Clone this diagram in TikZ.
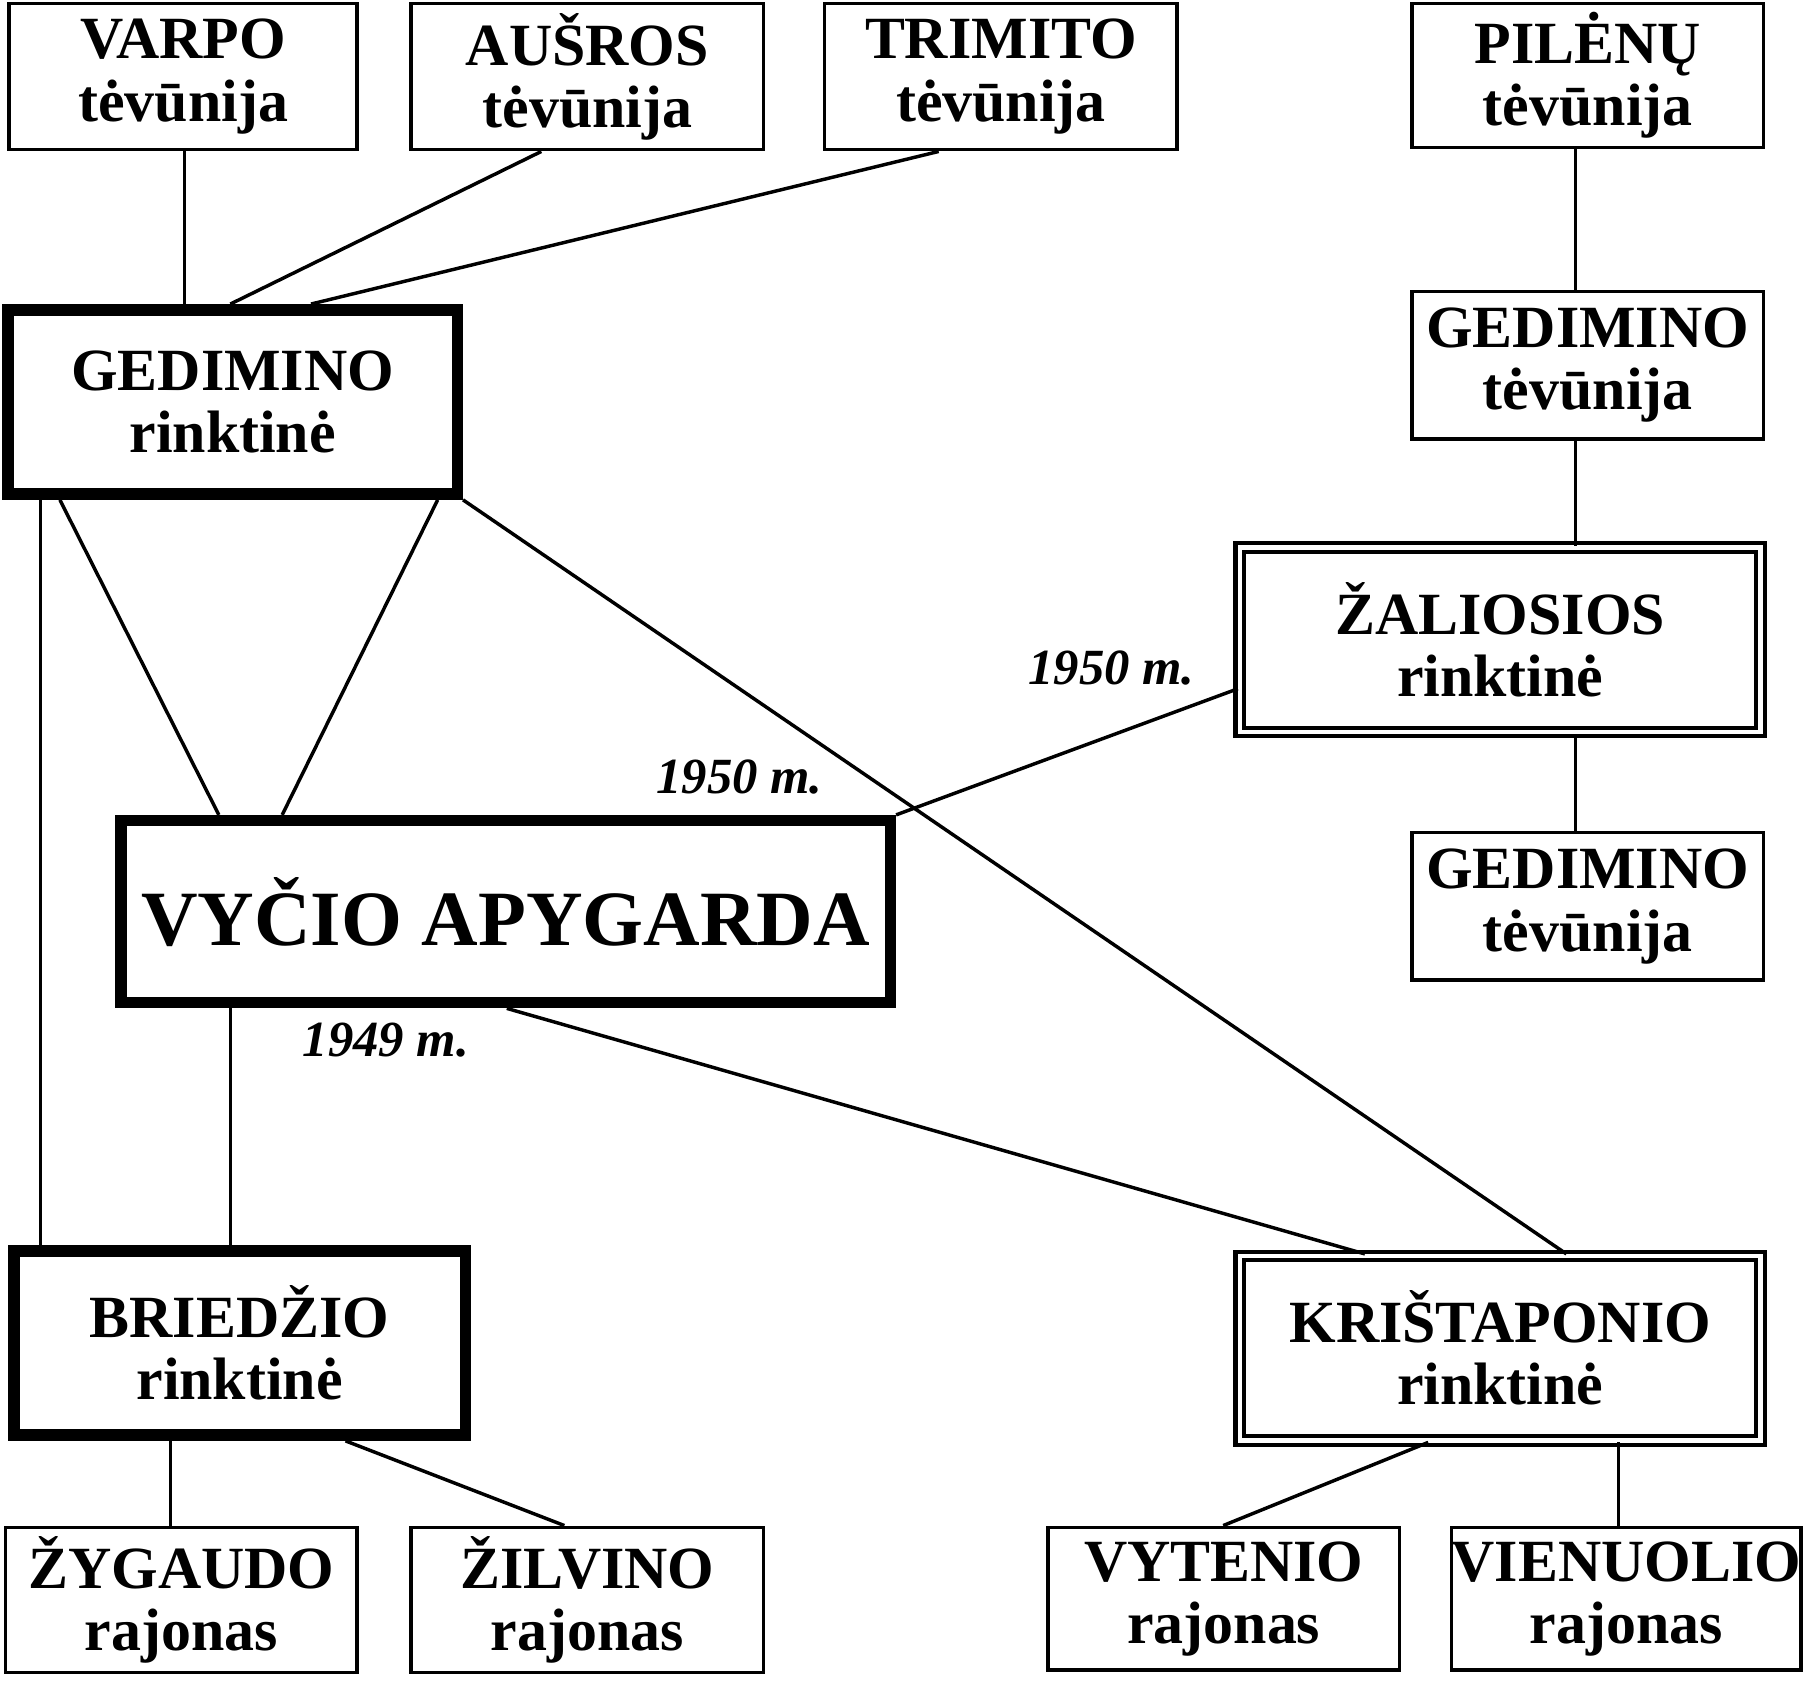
\documentclass[tikz,border=0pt]{standalone}
\usepackage{fontspec}
\setmainfont{Liberation Serif}
\begin{document}
\begin{tikzpicture}[x=0.5pt,y=-0.5pt,
 bx/.style={draw,line width=1.5pt,align=center,font=\bfseries\fontsize{26}{27}\selectfont,inner sep=0pt},
 tk/.style={bx,line width=5pt},
 db/.style={bx,double,line width=1.8pt,double distance=2pt},
 ln/.style={line width=1.5pt},
 yr/.style={font=\bfseries\itshape\fontsize{22}{24}\selectfont}]
\useasboundingbox (0,0) rectangle (1568,1459);
\node[bx,minimum width=151pt,minimum height=63.5pt] (varpo) at (159,66.5) {VARPO\\tėvūnija};
\node[bx,minimum width=153pt,minimum height=63.5pt] (ausros) at (510,66.5) {AUŠROS\\tėvūnija};
\node[bx,minimum width=153pt,minimum height=63.5pt] (trim) at (869,66.5) {TRIMITO\\tėvūnija};
\node[bx,minimum width=152.5pt,minimum height=62.5pt] (pil) at (1378.5,65.5) {PILĖNŲ\\tėvūnija};
\node[bx,minimum width=152.5pt,minimum height=64pt] (ged1) at (1378.5,317) {GEDIMINO\\tėvūnija};
\node[db,minimum width=226pt,minimum height=80pt] (zal) at (1302.5,555.5) {ŽALIOSIOS\\rinktinė};
\node[bx,minimum width=152.5pt,minimum height=64pt] (ged2) at (1378.5,787) {GEDIMINO\\tėvūnija};
\node[tk,minimum width=195pt,minimum height=80pt] (gedr) at (202,349) {GEDIMINO\\rinktinė};
\node[tk,minimum width=334pt,minimum height=79pt,font=\bfseries\fontsize{34}{36}\selectfont] (vyc) at (439,791.5) {VYČIO APYGARDA};
\node[tk,minimum width=196pt,minimum height=80pt] (brie) at (208,1166) {BRIEDŽIO\\rinktinė};
\node[db,minimum width=226pt,minimum height=80pt] (kri) at (1302.5,1170.5) {KRIŠTAPONIO\\rinktinė};
\node[bx,minimum width=152.5pt,minimum height=63pt] (zyg) at (157.5,1389) {ŽYGAUDO\\rajonas};
\node[bx,minimum width=153pt,minimum height=63pt] (zil) at (510,1389) {ŽILVINO\\rajonas};
\node[bx,minimum width=152.5pt,minimum height=62pt] (vyt) at (1062.5,1388) {VYTENIO\\rajonas};
\node[bx,minimum width=150pt,minimum height=62pt] (vie) at (1412,1388) {VIENUOLIO\\rajonas};
\begin{scope}[ln]
\draw (varpo.south -| 160,0) -- (gedr.north -| 160,0);
\draw (ausros.south -| 470,0) -- (gedr.north -| 200,0);
\draw (trim.south -| 815,0) -- (gedr.north -| 270,0);
\draw (pil.south -| 1368,0) -- (ged1.north -| 1368,0);
\draw (ged1.south -| 1368,0) -- (zal.north -| 1368,0);
\draw (zal.south -| 1368,0) -- (ged2.north -| 1368,0);
\draw (gedr.south -| 35,0) -- (brie.north -| 35,0);
\draw (gedr.south -| 52,0) -- (vyc.north -| 190,0);
\draw (gedr.south -| 380,0) -- (vyc.north -| 245,0);
\draw (gedr.south east) -- (kri.north -| 1360,0);
\draw (vyc.north east) -- (zal.west |- 0,598);
\draw (vyc.south -| 200,0) -- (brie.north -| 200,0);
\draw (vyc.south -| 440,0) -- (kri.north -| 1185,0);
\draw (brie.south -| 148,0) -- (zyg.north -| 148,0);
\draw (brie.south -| 300,0) -- (zil.north -| 490,0);
\draw (kri.south -| 1240,0) -- (vyt.north -| 1062,0);
\draw (kri.south -| 1405,0) -- (vie.north -| 1405,0);
\end{scope}
\node[yr] (l1) at (965,580) {1950 m.};
\node[yr] (l2) at (642,675) {1950 m.};
\node[yr] (l3) at (335,903) {1949 m.};
\end{tikzpicture}
\end{document}
